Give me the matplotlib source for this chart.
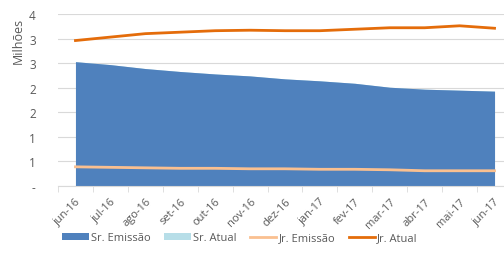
import matplotlib
matplotlib.use("Agg")
import matplotlib.pyplot as plt
import numpy as np

months = ["jun-16", "jul-16", "ago-16", "set-16", "out-16", "nov-16", "dez-16",
          "jan-17", "fev-17", "mar-17", "abr-17", "mai-17", "jun-17"]
sr_emissao = [2.53, 2.47, 2.39, 2.33, 2.28, 2.24, 2.18, 2.14, 2.09, 2.01, 1.97, 1.95, 1.93]
sr_atual = [2.53, 2.47, 2.39, 2.33, 2.28, 2.24, 2.18, 2.14, 2.09, 2.01, 1.97, 1.95, 1.93]
jr_emissao = [0.39, 0.38, 0.37, 0.36, 0.36, 0.35, 0.35, 0.34, 0.34, 0.33, 0.31, 0.31, 0.31]
jr_atual = [2.96, 3.03, 3.10, 3.13, 3.16, 3.17, 3.16, 3.16, 3.19, 3.22, 3.22, 3.26, 3.21]
ytick_vals = [0, 0.5, 1.0, 1.5, 2.0, 2.5, 3.0, 3.5]
ytick_labels = ["-", "1", "1", "2", "2", "3", "3", "4"]

plt.rcParams['font.family'] = ['Open Sans', 'DejaVu Sans']
txt = "#595959"

fig = plt.figure(figsize=(5.04, 2.55), dpi=100)
ax = fig.add_axes([58/504, 1-187/255, (512-58)/504, (187-15)/255])
x = np.arange(len(months))

ax.fill_between(x, 0, sr_atual, color="#B7DEE8", lw=0, zorder=1, label="Sr. Atual")
ax.fill_between(x, 0, sr_emissao, color="#4F81BD", lw=0, zorder=2, label="Sr. Emissão")
ax.plot(x, jr_emissao, color="#FAC090", lw=2, zorder=3, label="Jr. Emissão")
ax.plot(x, jr_atual, color="#E46C0A", lw=2, zorder=3, label="Jr. Atual")

ax.set_xlim(-0.5, 12.5)
ax.set_ylim(0, 3.5)
ax.set_yticks(ytick_vals)
ax.set_yticklabels(ytick_labels)
ax.grid(axis='y', color="#D9D9D9", lw=0.8, zorder=0)
ax.set_axisbelow(True)
for s in ["top", "right", "left"]:
    ax.spines[s].set_visible(False)
ax.spines["bottom"].set_color("#D9D9D9")
ax.tick_params(axis='y', length=0, labelsize=8.5, labelcolor=txt, pad=16)
ax.set_xticks(x)
ax.set_xticklabels(months, rotation=45, ha='right', rotation_mode='anchor', va='top')
ax.tick_params(axis='x', length=0, labelsize=8, labelcolor=txt, pad=7)
ax.set_xticks(np.arange(-0.5, 13, 1), minor=True)
ax.tick_params(axis='x', which='minor', length=4, color="#D9D9D9")

fig.text(18/504, 1-41/255, "Milhões", rotation=90, ha='center', va='center',
         fontsize=9, color=txt)

h, l = ax.get_legend_handles_labels()
order = [1, 0, 2, 3]
leg = fig.legend([h[i] for i in order], [l[i] for i in order], loc='center',
                 bbox_to_anchor=(240/504, 1-239/255), ncol=4, frameon=False,
                 fontsize=8, labelcolor=txt, handlelength=2.4, columnspacing=1.2,
                 handletextpad=0.2, handleheight=0.5)

fig.savefig("out.png", dpi=100)
